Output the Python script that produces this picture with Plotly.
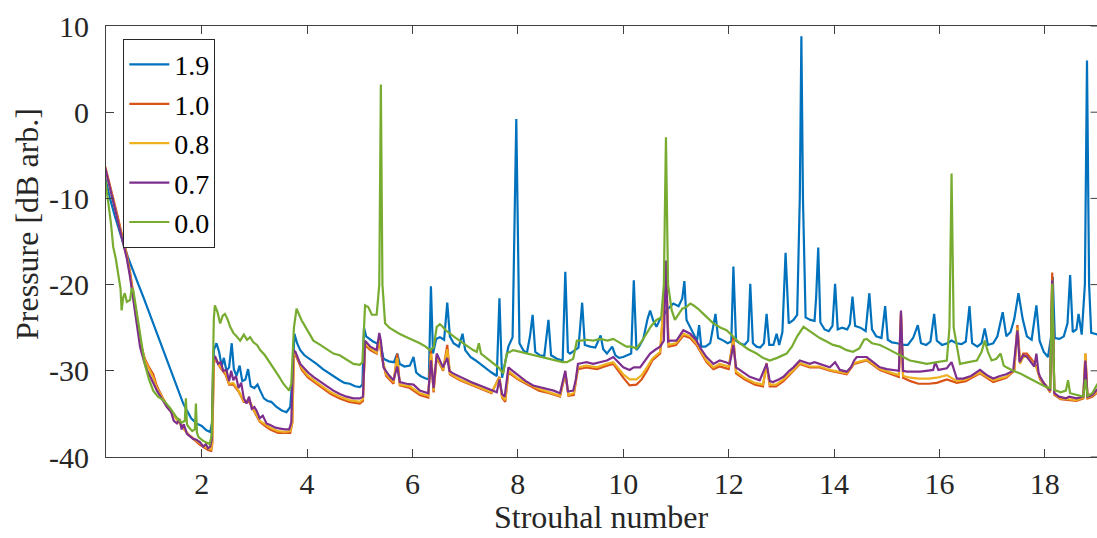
import plotly.graph_objects as go

# Pressure spectra vs Strouhal number, one trace per case (x, dB) pairs
spec_19 = [
    (0.17, -7.6), (0.26, -10.0), (0.35, -12.0), (0.45, -14.2), (0.51, -15.2), (0.60, -16.8),
    (0.70, -18.3), (0.80, -20.0), (0.89, -21.4), (1.00, -23.2), (1.08, -24.5), (1.18, -26.2),
    (1.27, -27.6), (1.36, -29.2), (1.46, -30.7), (1.52, -31.8), (1.59, -33.0), (1.65, -33.8),
    (1.72, -34.6), (1.80, -35.5), (1.90, -36.1), (2.00, -36.4), (2.09, -36.9), (2.16, -37.1),
    (2.20, -36.0), (2.23, -27.6), (2.28, -26.8), (2.33, -27.8), (2.38, -29.5), (2.42, -28.5),
    (2.47, -30.0), (2.52, -29.6), (2.57, -26.8), (2.61, -29.8), (2.66, -30.6), (2.72, -29.4),
    (2.77, -31.2), (2.83, -31.0), (2.88, -29.8), (2.93, -31.8), (3.00, -32.0), (3.06, -31.6),
    (3.11, -32.3), (3.18, -33.2), (3.25, -33.5), (3.32, -33.6), (3.42, -34.2), (3.52, -34.6),
    (3.61, -34.8), (3.68, -34.2), (3.72, -31.0), (3.76, -25.7), (3.81, -26.8), (3.87, -27.6),
    (3.95, -28.2), (4.05, -28.6), (4.18, -29.2), (4.30, -29.8), (4.40, -30.2), (4.50, -30.7),
    (4.62, -31.1), (4.71, -31.4), (4.81, -31.5), (4.91, -31.8), (5.00, -31.9), (5.05, -31.6),
    (5.08, -25.0), (5.12, -26.0), (5.18, -26.3), (5.25, -26.6), (5.32, -26.8), (5.40, -27.0),
    (5.45, -28.6), (5.55, -28.9), (5.65, -29.0), (5.71, -28.0), (5.76, -29.2), (5.85, -29.5),
    (5.95, -29.4), (6.02, -28.4), (6.07, -30.2), (6.15, -30.6), (6.25, -30.9), (6.31, -31.0),
    (6.35, -20.2), (6.39, -28.0), (6.45, -26.3), (6.52, -26.1), (6.60, -26.4), (6.66, -22.1),
    (6.71, -26.0), (6.78, -26.8), (6.88, -27.2), (6.95, -25.7), (7.00, -27.6), (7.10, -28.4),
    (7.20, -28.8), (7.30, -29.3), (7.40, -29.7), (7.50, -30.2), (7.60, -30.6), (7.65, -21.6),
    (7.70, -30.8), (7.76, -29.0), (7.82, -27.2), (7.90, -26.1), (7.97, -0.8), (8.03, -26.8),
    (8.10, -27.6), (8.17, -28.0), (8.23, -26.0), (8.28, -23.5), (8.33, -27.8), (8.42, -28.2),
    (8.50, -28.3), (8.58, -24.1), (8.63, -28.2), (8.74, -28.6), (8.85, -28.8), (8.90, -18.5),
    (8.95, -27.8), (8.99, -28.0), (9.07, -27.6), (9.15, -27.3), (9.22, -22.1), (9.27, -27.0),
    (9.37, -27.2), (9.47, -27.3), (9.57, -25.9), (9.62, -27.5), (9.69, -28.0), (9.79, -27.2),
    (9.85, -28.2), (9.92, -28.5), (10.00, -28.4), (10.08, -28.2), (10.15, -28.0), (10.20, -19.5),
    (10.25, -27.6), (10.30, -27.2), (10.38, -26.3), (10.46, -24.0), (10.51, -23.0), (10.57, -24.2),
    (10.63, -24.9), (10.70, -24.0), (10.76, -23.5), (10.85, -22.8), (10.95, -22.2), (11.05, -22.5),
    (11.12, -21.6), (11.16, -19.6), (11.20, -24.1), (11.27, -25.0), (11.33, -25.7), (11.40, -26.5),
    (11.44, -24.7), (11.48, -27.2), (11.56, -27.2), (11.65, -26.8), (11.75, -23.4), (11.80, -26.2),
    (11.90, -26.5), (11.98, -26.8), (12.05, -26.6), (12.09, -17.9), (12.14, -26.5), (12.21, -26.8),
    (12.30, -27.0), (12.37, -26.5), (12.41, -19.9), (12.46, -26.8), (12.53, -27.2), (12.60, -27.3),
    (12.67, -26.8), (12.72, -23.4), (12.77, -27.0), (12.85, -27.0), (12.91, -25.7), (12.96, -27.0),
    (13.02, -25.5), (13.08, -16.3), (13.14, -24.5), (13.23, -24.1), (13.30, -23.5), (13.35, -10.0),
    (13.38, 8.8), (13.41, -10.0), (13.46, -23.8), (13.55, -24.1), (13.63, -24.2), (13.66, -21.5),
    (13.70, -15.7), (13.74, -24.4), (13.82, -25.2), (13.90, -25.4), (13.97, -24.8), (14.02, -19.9),
    (14.07, -25.2), (14.15, -25.0), (14.25, -25.2), (14.30, -24.6), (14.35, -21.4), (14.40, -24.8),
    (14.50, -25.0), (14.60, -25.4), (14.67, -21.0), (14.72, -25.2), (14.80, -26.0), (14.90, -26.2),
    (14.97, -22.5), (15.02, -26.4), (15.10, -26.7), (15.20, -26.8), (15.30, -27.0), (15.40, -27.0),
    (15.50, -26.2), (15.59, -24.7), (15.65, -26.8), (15.75, -27.0), (15.83, -26.6), (15.90, -23.4),
    (15.95, -26.5), (16.05, -27.0), (16.15, -26.8), (16.23, -26.5), (16.32, -26.8), (16.42, -26.9),
    (16.50, -26.6), (16.57, -22.5), (16.62, -26.8), (16.72, -27.2), (16.80, -26.8), (16.86, -25.1),
    (16.92, -27.0), (17.02, -26.8), (17.10, -26.0), (17.20, -23.2), (17.27, -26.0), (17.35, -25.5),
    (17.42, -24.0), (17.50, -21.0), (17.58, -24.0), (17.66, -26.0), (17.75, -26.4), (17.84, -22.4),
    (17.90, -26.5), (17.98, -27.8), (18.06, -28.4), (18.12, -26.0), (18.15, -19.1), (18.19, -26.2),
    (18.28, -26.3), (18.36, -26.0), (18.43, -24.5), (18.48, -18.9), (18.53, -25.5), (18.60, -25.2),
    (18.64, -23.4), (18.70, -25.8), (18.76, -20.0), (18.80, 6.0), (18.84, -20.0), (18.88, -25.6),
    (18.95, -25.7), (19.00, -25.8),
]

spec_10 = [
    (0.17, -6.3), (0.22, -7.5), (0.30, -9.6), (0.39, -11.7), (0.51, -14.8), (0.58, -16.5),
    (0.64, -18.5), (0.70, -21.0), (0.75, -23.0), (0.80, -25.0), (0.85, -27.0), (0.92, -28.6),
    (1.00, -29.6), (1.08, -30.4), (1.15, -31.8), (1.25, -33.0), (1.34, -34.0), (1.45, -34.9),
    (1.55, -35.8), (1.65, -36.6), (1.75, -37.4), (1.85, -38.0), (1.95, -38.5), (2.05, -38.9),
    (2.12, -39.2), (2.18, -39.3), (2.20, -38.5), (2.23, -29.0), (2.28, -28.8), (2.35, -29.6),
    (2.45, -30.4), (2.52, -31.6), (2.60, -31.6), (2.70, -32.4), (2.80, -33.6), (2.90, -33.6),
    (3.00, -34.7), (3.10, -35.9), (3.20, -36.4), (3.30, -36.8), (3.45, -37.2), (3.58, -37.2),
    (3.68, -37.2), (3.72, -36.0), (3.75, -28.0), (3.80, -28.4), (3.90, -29.9), (4.02, -30.8),
    (4.15, -31.4), (4.30, -32.0), (4.45, -32.7), (4.62, -33.2), (4.80, -33.6), (5.00, -33.8),
    (5.06, -33.5), (5.10, -27.0), (5.20, -27.6), (5.32, -28.0), (5.37, -26.5), (5.42, -28.5),
    (5.50, -30.6), (5.64, -31.5), (5.71, -28.0), (5.76, -31.7), (5.95, -32.0), (6.14, -32.8),
    (6.30, -33.1), (6.35, -27.6), (6.40, -32.5), (6.46, -28.4), (6.58, -30.0), (6.66, -27.0),
    (6.71, -30.4), (6.90, -31.1), (7.10, -31.6), (7.30, -32.1), (7.50, -32.6), (7.65, -30.7),
    (7.70, -33.1), (7.76, -33.6), (7.82, -30.2), (8.00, -31.0), (8.20, -31.7), (8.40, -32.3),
    (8.60, -32.6), (8.80, -33.0), (8.90, -30.3), (8.96, -32.9), (9.06, -32.8), (9.14, -29.8),
    (9.30, -29.6), (9.50, -29.8), (9.69, -29.4), (9.81, -29.2), (10.00, -30.8), (10.12, -31.7),
    (10.25, -31.6), (10.35, -31.0), (10.45, -30.0), (10.55, -28.8), (10.70, -28.0), (10.81, -18.5),
    (10.86, -27.2), (11.00, -27.0), (11.14, -25.9), (11.27, -26.2), (11.39, -27.0), (11.58, -29.0),
    (11.71, -29.8), (11.83, -29.5), (12.00, -29.8), (12.09, -26.1), (12.14, -30.3), (12.30, -31.0),
    (12.50, -31.6), (12.65, -31.8), (12.72, -29.1), (12.78, -31.8), (12.90, -31.8), (13.04, -31.2),
    (13.23, -30.0), (13.35, -29.2), (13.54, -29.6), (13.73, -29.6), (13.92, -30.0), (14.11, -30.2),
    (14.24, -30.4), (14.38, -29.2), (14.62, -28.8), (14.87, -29.9), (15.00, -30.2), (15.12, -30.4),
    (15.23, -30.7), (15.27, -23.3), (15.31, -30.8), (15.45, -31.2), (15.60, -31.5), (15.80, -31.5),
    (15.95, -31.4), (16.14, -31.0), (16.33, -31.4), (16.50, -31.2), (16.77, -30.3), (17.02, -31.3),
    (17.27, -30.8), (17.42, -30.0), (17.48, -24.7), (17.53, -29.0), (17.59, -28.0), (17.66, -28.0),
    (17.74, -28.6), (17.84, -29.5), (17.91, -31.0), (18.05, -32.0), (18.10, -32.5), (18.14, -18.6),
    (18.18, -32.8), (18.30, -33.3), (18.46, -33.4), (18.60, -33.5), (18.73, -33.2), (18.77, -28.0),
    (18.81, -33.2), (18.90, -33.0), (19.00, -32.5),
]

spec_08 = [
    (0.17, -6.6), (0.22, -7.8), (0.30, -9.8), (0.39, -11.9), (0.51, -15.0), (0.58, -16.8),
    (0.64, -18.8), (0.70, -21.3), (0.75, -23.3), (0.80, -25.3), (0.85, -27.2), (0.92, -28.8),
    (1.00, -29.8), (1.08, -30.8), (1.15, -32.0), (1.25, -33.1), (1.34, -34.1), (1.45, -35.0),
    (1.55, -35.9), (1.65, -36.7), (1.75, -37.4), (1.85, -37.9), (1.95, -38.4), (2.05, -38.8),
    (2.12, -39.0), (2.18, -39.1), (2.20, -38.4), (2.23, -28.9), (2.28, -28.7), (2.35, -29.5),
    (2.45, -30.2), (2.52, -31.5), (2.60, -31.4), (2.70, -32.3), (2.80, -33.5), (2.90, -33.4),
    (3.00, -34.6), (3.10, -35.8), (3.20, -36.2), (3.30, -36.6), (3.45, -37.0), (3.58, -37.1),
    (3.68, -37.0), (3.72, -36.0), (3.75, -27.9), (3.80, -28.2), (3.90, -29.7), (4.02, -30.6),
    (4.15, -31.2), (4.30, -31.8), (4.45, -32.5), (4.62, -33.0), (4.80, -33.4), (5.00, -33.6),
    (5.06, -33.3), (5.10, -26.8), (5.20, -27.4), (5.32, -27.9), (5.37, -26.2), (5.42, -28.4),
    (5.50, -30.4), (5.64, -31.3), (5.71, -28.5), (5.76, -31.6), (5.95, -31.8), (6.14, -32.6),
    (6.30, -32.9), (6.35, -28.0), (6.40, -32.3), (6.46, -28.3), (6.58, -29.9), (6.66, -27.5),
    (6.71, -30.3), (6.90, -31.0), (7.10, -31.5), (7.30, -32.0), (7.50, -32.5), (7.65, -30.8),
    (7.70, -33.0), (7.76, -33.4), (7.82, -30.0), (8.00, -30.9), (8.20, -31.5), (8.40, -32.1),
    (8.60, -32.5), (8.80, -32.9), (8.90, -30.2), (8.96, -32.8), (9.06, -32.6), (9.14, -29.6),
    (9.30, -29.4), (9.50, -29.6), (9.69, -29.2), (9.81, -29.0), (10.00, -30.4), (10.12, -31.0),
    (10.25, -31.0), (10.35, -30.5), (10.45, -29.6), (10.55, -28.6), (10.70, -27.8), (10.81, -18.0),
    (10.86, -27.0), (11.00, -26.8), (11.14, -25.7), (11.27, -26.0), (11.39, -26.8), (11.58, -28.8),
    (11.71, -29.6), (11.83, -29.2), (12.00, -29.5), (12.09, -26.5), (12.14, -30.1), (12.30, -30.8),
    (12.50, -31.4), (12.65, -31.6), (12.72, -29.5), (12.78, -31.6), (12.90, -31.6), (13.04, -31.0),
    (13.23, -29.9), (13.35, -29.1), (13.54, -29.5), (13.73, -29.5), (13.92, -29.9), (14.11, -30.1),
    (14.24, -30.3), (14.38, -29.1), (14.62, -28.7), (14.87, -29.8), (15.00, -30.1), (15.12, -30.3),
    (15.23, -30.5), (15.27, -23.5), (15.31, -30.6), (15.45, -30.8), (15.60, -30.9), (15.80, -30.9),
    (15.95, -30.8), (16.14, -30.5), (16.33, -31.2), (16.50, -31.0), (16.77, -30.2), (17.02, -31.1),
    (17.27, -30.7), (17.42, -29.9), (17.48, -25.0), (17.53, -29.2), (17.59, -28.4), (17.66, -28.4),
    (17.74, -28.9), (17.84, -29.6), (17.91, -30.9), (18.05, -31.9), (18.10, -32.4), (18.14, -19.5),
    (18.18, -32.7), (18.30, -33.2), (18.46, -33.3), (18.60, -33.4), (18.73, -33.1), (18.77, -28.0),
    (18.81, -33.1), (18.90, -32.9), (19.00, -32.4),
]

spec_07 = [
    (0.17, -6.5), (0.22, -7.8), (0.26, -9.0), (0.32, -10.5), (0.39, -12.1), (0.45, -13.8),
    (0.51, -15.2), (0.58, -17.0), (0.64, -19.1), (0.68, -20.8), (0.73, -23.0), (0.78, -25.2),
    (0.83, -27.2), (0.90, -28.8), (0.96, -29.9), (1.05, -31.0), (1.15, -32.3), (1.25, -33.3),
    (1.34, -34.2), (1.42, -34.8), (1.47, -35.8), (1.53, -36.1), (1.58, -35.6), (1.62, -36.8),
    (1.66, -36.2), (1.72, -37.3), (1.78, -37.6), (1.84, -37.9), (1.90, -38.0), (1.97, -38.3),
    (2.03, -38.8), (2.08, -38.5), (2.12, -39.0), (2.16, -38.8), (2.19, -38.0), (2.22, -28.6),
    (2.26, -28.4), (2.31, -29.2), (2.36, -29.0), (2.41, -30.0), (2.47, -29.9), (2.52, -31.2),
    (2.56, -30.0), (2.60, -31.1), (2.65, -30.6), (2.70, -32.0), (2.75, -31.4), (2.80, -33.2),
    (2.85, -33.8), (2.90, -33.0), (2.95, -34.4), (3.00, -34.2), (3.04, -34.6), (3.10, -35.5),
    (3.16, -35.2), (3.23, -36.1), (3.30, -36.3), (3.40, -36.6), (3.49, -36.7), (3.58, -36.8),
    (3.66, -36.8), (3.70, -36.0), (3.74, -27.6), (3.78, -27.8), (3.87, -29.2), (3.95, -29.7),
    (4.02, -30.2), (4.12, -30.7), (4.25, -31.3), (4.38, -31.8), (4.50, -32.3), (4.62, -32.7),
    (4.75, -33.0), (4.88, -33.2), (5.00, -33.2), (5.06, -33.0), (5.10, -26.5), (5.15, -26.8),
    (5.20, -27.2), (5.32, -27.6), (5.37, -25.6), (5.40, -26.5), (5.45, -29.6), (5.55, -30.5),
    (5.64, -31.1), (5.71, -29.5), (5.76, -31.3), (5.89, -31.5), (6.02, -31.6), (6.14, -32.3),
    (6.25, -32.5), (6.30, -32.6), (6.35, -28.8), (6.40, -32.0), (6.46, -28.0), (6.52, -28.8),
    (6.58, -29.6), (6.66, -28.5), (6.70, -30.0), (6.77, -30.3), (6.90, -30.7), (7.03, -31.1),
    (7.15, -31.4), (7.28, -31.7), (7.40, -32.0), (7.53, -32.3), (7.60, -32.5), (7.65, -31.0),
    (7.70, -32.7), (7.75, -33.0), (7.78, -31.5), (7.82, -29.6), (7.90, -30.0), (8.04, -30.7),
    (8.15, -31.2), (8.29, -31.7), (8.42, -31.9), (8.55, -32.1), (8.68, -32.3), (8.80, -32.6),
    (8.90, -30.0), (8.95, -32.4), (9.05, -32.3), (9.10, -31.0), (9.14, -29.2), (9.22, -29.1),
    (9.30, -29.0), (9.43, -29.2), (9.56, -29.0), (9.69, -28.8), (9.81, -28.4), (9.90, -29.0),
    (10.00, -29.6), (10.12, -29.9), (10.20, -29.6), (10.32, -29.6), (10.42, -28.8), (10.51, -28.0),
    (10.62, -27.5), (10.70, -27.2), (10.77, -26.5), (10.81, -17.2), (10.85, -26.6), (10.89, -26.5),
    (11.01, -26.5), (11.14, -25.3), (11.27, -25.7), (11.39, -26.5), (11.48, -27.5), (11.58, -28.4),
    (11.71, -29.2), (11.83, -28.8), (11.95, -29.0), (12.02, -29.2), (12.09, -27.0), (12.14, -29.6),
    (12.21, -29.9), (12.40, -30.7), (12.59, -31.1), (12.72, -29.2), (12.78, -31.2), (12.84, -31.3),
    (12.95, -31.0), (13.04, -30.7), (13.15, -30.0), (13.23, -29.6), (13.35, -28.8), (13.45, -29.0),
    (13.54, -29.2), (13.63, -29.0), (13.73, -29.2), (13.80, -29.4), (13.92, -29.6), (14.02, -29.0),
    (14.11, -29.9), (14.24, -30.1), (14.32, -29.6), (14.38, -28.8), (14.43, -28.4), (14.62, -28.4),
    (14.75, -29.0), (14.87, -29.6), (15.00, -29.8), (15.12, -29.9), (15.23, -30.0), (15.27, -23.0),
    (15.31, -30.0), (15.38, -30.1), (15.50, -30.1), (15.63, -30.1), (15.75, -30.0), (15.88, -29.9),
    (15.92, -29.0), (15.98, -29.9), (16.14, -29.7), (16.23, -29.0), (16.33, -30.9), (16.45, -30.9),
    (16.60, -30.6), (16.77, -29.9), (16.90, -30.5), (17.02, -30.9), (17.15, -30.6), (17.27, -30.4),
    (17.40, -30.0), (17.48, -25.3), (17.52, -29.0), (17.59, -28.2), (17.65, -28.3), (17.72, -28.8),
    (17.80, -29.5), (17.84, -28.0), (17.88, -30.2), (17.91, -30.7), (18.00, -31.6), (18.10, -32.3),
    (18.14, -19.5), (18.18, -32.6), (18.27, -33.0), (18.40, -33.2), (18.46, -33.0), (18.60, -33.2),
    (18.73, -33.0), (18.77, -28.8), (18.81, -33.0), (18.90, -32.8), (19.00, -32.1),
]

spec_00 = [
    (0.17, -7.9), (0.20, -9.5), (0.23, -10.6), (0.28, -13.0), (0.32, -15.6), (0.37, -17.0),
    (0.42, -18.7), (0.46, -20.5), (0.48, -23.0), (0.51, -21.5), (0.54, -21.0), (0.58, -22.0),
    (0.64, -21.8), (0.67, -20.5), (0.70, -20.6), (0.73, -21.8), (0.77, -23.0), (0.80, -24.5),
    (0.83, -25.7), (0.88, -27.5), (0.92, -29.2), (1.00, -31.0), (1.08, -32.3), (1.17, -33.0),
    (1.27, -33.4), (1.40, -34.3), (1.52, -35.4), (1.62, -36.0), (1.68, -35.8), (1.70, -33.2),
    (1.72, -36.2), (1.75, -36.5), (1.82, -37.0), (1.87, -36.8), (1.89, -33.8), (1.91, -37.2),
    (1.94, -37.7), (2.02, -38.1), (2.09, -38.3), (2.15, -38.5), (2.19, -37.5), (2.23, -24.0),
    (2.25, -22.4), (2.30, -23.2), (2.35, -24.5), (2.40, -23.6), (2.44, -23.4), (2.49, -24.0),
    (2.54, -24.9), (2.60, -25.6), (2.66, -26.0), (2.73, -26.5), (2.80, -25.8), (2.86, -26.4),
    (2.92, -26.1), (2.98, -26.7), (3.05, -27.0), (3.11, -27.6), (3.20, -28.2), (3.28, -28.9),
    (3.36, -29.6), (3.45, -30.5), (3.55, -31.5), (3.62, -32.0), (3.66, -32.3), (3.70, -31.5),
    (3.75, -25.0), (3.80, -22.8), (3.85, -23.6), (3.90, -24.2), (3.93, -24.5), (4.00, -25.3),
    (4.12, -26.5), (4.25, -27.0), (4.38, -27.5), (4.50, -28.0), (4.62, -28.2), (4.75, -28.7),
    (4.88, -29.2), (5.00, -29.3), (5.05, -29.0), (5.10, -22.4), (5.16, -22.6), (5.23, -23.5),
    (5.32, -23.5), (5.37, -20.0), (5.40, 3.2), (5.43, -20.0), (5.48, -24.5), (5.56, -25.0),
    (5.64, -25.3), (5.75, -25.7), (5.89, -26.1), (6.00, -26.4), (6.14, -26.8), (6.25, -27.2),
    (6.33, -27.6), (6.40, -27.3), (6.46, -24.9), (6.52, -24.6), (6.56, -24.8), (6.63, -25.3),
    (6.71, -25.7), (6.80, -26.1), (6.96, -26.8), (7.05, -27.2), (7.15, -27.6), (7.22, -27.8),
    (7.26, -26.8), (7.30, -28.0), (7.38, -28.4), (7.47, -28.8), (7.55, -29.2), (7.63, -29.6),
    (7.72, -30.3), (7.76, -29.2), (7.79, -28.0), (7.91, -27.6), (8.05, -27.8), (8.17, -28.0),
    (8.30, -28.2), (8.42, -28.4), (8.55, -28.6), (8.70, -28.8), (8.85, -29.0), (8.93, -29.0),
    (9.05, -28.6), (9.12, -26.5), (9.20, -26.5), (9.30, -26.4), (9.43, -26.5), (9.56, -26.3),
    (9.70, -26.5), (9.81, -26.3), (9.95, -26.8), (10.06, -27.2), (10.15, -27.2), (10.25, -27.4),
    (10.35, -26.6), (10.44, -25.7), (10.53, -24.8), (10.63, -24.1), (10.72, -23.8), (10.77, -20.0),
    (10.81, -2.9), (10.85, -20.0), (10.92, -23.0), (10.98, -24.1), (11.05, -23.5), (11.12, -22.8),
    (11.20, -22.6), (11.27, -22.2), (11.33, -22.4), (11.42, -22.8), (11.52, -23.4), (11.62, -24.0),
    (11.71, -24.5), (11.85, -25.0), (11.96, -25.3), (12.08, -26.0), (12.21, -26.8), (12.37, -27.5),
    (12.53, -28.0), (12.65, -28.5), (12.78, -28.8), (12.92, -28.5), (13.02, -28.2), (13.10, -28.0),
    (13.20, -27.2), (13.30, -26.0), (13.42, -24.9), (13.52, -25.3), (13.61, -25.7), (13.73, -26.2),
    (13.86, -26.6), (13.98, -27.0), (14.11, -27.2), (14.24, -27.6), (14.36, -27.8), (14.48, -27.4),
    (14.57, -26.4), (14.62, -26.3), (14.72, -26.8), (14.87, -27.0), (15.00, -27.4), (15.19, -28.0),
    (15.30, -28.3), (15.44, -28.8), (15.60, -29.0), (15.76, -29.2), (15.95, -29.0), (16.14, -28.8),
    (16.19, -25.0), (16.23, -7.1), (16.27, -25.0), (16.39, -29.2), (16.55, -29.0), (16.71, -28.8),
    (16.80, -27.8), (16.86, -26.5), (16.92, -27.8), (16.99, -28.8), (17.08, -28.6), (17.16, -28.0),
    (17.22, -29.4), (17.27, -29.6), (17.40, -30.0), (17.53, -30.3), (17.65, -30.7), (17.78, -31.1),
    (17.90, -31.5), (18.03, -31.9), (18.10, -32.0), (18.14, -19.9), (18.18, -32.2), (18.30, -32.5),
    (18.40, -32.3), (18.44, -31.1), (18.48, -32.6), (18.60, -32.8), (18.73, -33.0), (18.77, -31.0),
    (18.81, -32.9), (18.90, -32.6), (19.00, -31.5),
]

case_labels = ["1.9", "1.0", "0.8", "0.7", "0.0"]
case_spectra = [spec_19, spec_10, spec_08, spec_07, spec_00]
case_colors = ["#0072BD", "#D95319", "#EDB120", "#7E2F8E", "#77AC30"]

x_tick_vals = [2, 4, 6, 8, 10, 12, 14, 16, 18]
y_tick_vals = [-40, -30, -20, -10, 0, 10]
y_tick_text = ["-40", "-30", "-20", "-10", "0", "10"]

FONT = "Liberation Serif"
TICK_FS = 30
TITLE_FS = 32
LEGEND_FS = 28
AX_COLOR = "#404040"
TEXT_COLOR = "#262626"

fig = go.Figure()
for label, spec, color in zip(case_labels, case_spectra, case_colors):
    xs = [p[0] for p in spec]
    ys = [p[1] for p in spec]
    fig.add_trace(go.Scatter(x=xs, y=ys, mode="lines", name=label,
                             line=dict(color=color, width=2.2)))

# inward tick marks along the right-hand edge of the axes box
right_ticks = [
    dict(type="line", xref="paper", yref="y", x0=0.9935, x1=1.0, y0=v, y1=v,
         line=dict(color=AX_COLOR, width=1))
    for v in y_tick_vals
]

fig.update_layout(
    width=1097, height=538,
    margin=dict(l=106, r=0, t=26, b=81),
    paper_bgcolor="white", plot_bgcolor="white",
    font=dict(family=FONT, size=TICK_FS, color=TEXT_COLOR),
    showlegend=True,
    legend=dict(x=0.0175, y=0.9705, xanchor="left", yanchor="top",
                bgcolor="white", bordercolor="#262626", borderwidth=1,
                font=dict(family=FONT, size=LEGEND_FS, color="#000000"),
                tracegroupgap=0, itemwidth=40),
    hovermode=False,
    shapes=right_ticks,
    annotations=[
        dict(text="Strouhal number", xref="paper", yref="paper",
             x=0.5, y=-0.186, xanchor="center", yanchor="bottom",
             showarrow=False, font=dict(family=FONT, size=TITLE_FS, color=TEXT_COLOR)),
        dict(text="Pressure [dB arb.]", xref="paper", yref="paper",
             x=-0.079, y=0.54, xanchor="center", yanchor="middle", textangle=-90,
             showarrow=False, font=dict(family=FONT, size=TITLE_FS, color=TEXT_COLOR)),
    ],
)

fig.update_xaxes(
    range=[0.184, 18.99], tickmode="array", tickvals=x_tick_vals,
    ticks="inside", ticklen=8, tickwidth=1, tickcolor=AX_COLOR,
    showline=True, linecolor=AX_COLOR, linewidth=1, mirror="ticks",
    showgrid=False, zeroline=False, ticklabelstandoff=0,
    tickfont=dict(family=FONT, size=TICK_FS, color=TEXT_COLOR),
)
fig.update_yaxes(
    range=[-40, 10], tickmode="array", tickvals=y_tick_vals, ticktext=y_tick_text,
    ticks="inside", ticklen=8, tickwidth=1, tickcolor=AX_COLOR,
    showline=True, linecolor=AX_COLOR, linewidth=1, mirror=False,
    showgrid=False, zeroline=False, ticklabelstandoff=10,
    tickfont=dict(family=FONT, size=TICK_FS, color=TEXT_COLOR),
)

fig.write_html("out.html", config={"displayModeBar": False})
